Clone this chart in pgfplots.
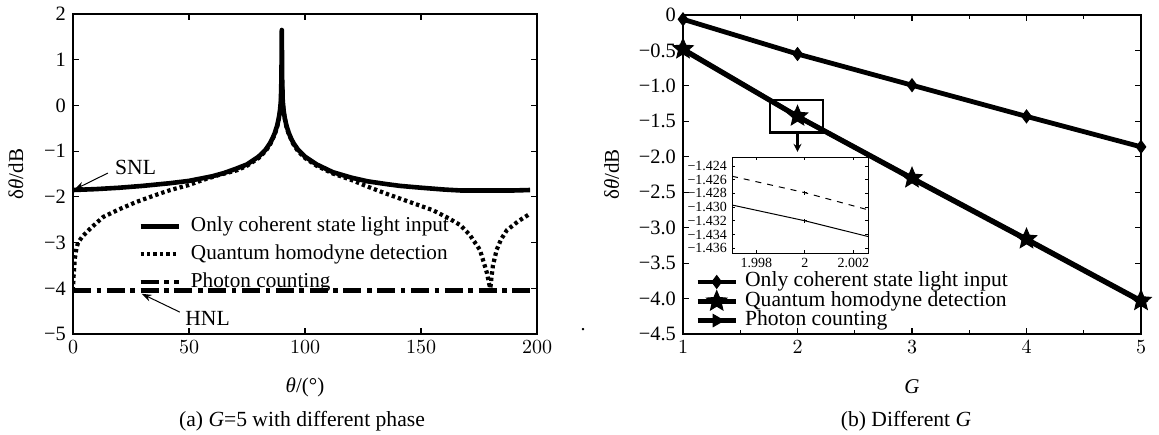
\documentclass[border=0pt]{standalone}
\usepackage{fontspec}
\setmainfont{Liberation Serif}
\usepackage{pgfplots}
\pgfplotsset{compat=1.18}
\usetikzlibrary{arrows.meta}

\pgfdeclareplotmark{fstar}{%
 \pgfpathmoveto{\pgfpointpolar{90}{\pgfplotmarksize}}%
 \pgfpathlineto{\pgfpointpolar{126}{0.45\pgfplotmarksize}}%
 \pgfpathlineto{\pgfpointpolar{162}{\pgfplotmarksize}}%
 \pgfpathlineto{\pgfpointpolar{198}{0.45\pgfplotmarksize}}%
 \pgfpathlineto{\pgfpointpolar{234}{\pgfplotmarksize}}%
 \pgfpathlineto{\pgfpointpolar{270}{0.45\pgfplotmarksize}}%
 \pgfpathlineto{\pgfpointpolar{306}{\pgfplotmarksize}}%
 \pgfpathlineto{\pgfpointpolar{342}{0.45\pgfplotmarksize}}%
 \pgfpathlineto{\pgfpointpolar{18}{\pgfplotmarksize}}%
 \pgfpathlineto{\pgfpointpolar{54}{0.45\pgfplotmarksize}}%
 \pgfpathclose
 \pgfusepathqfillstroke
}

\pgfplotsset{
  common/.style={
    scale only axis,
    anchor=south west,
    tick align=inside,
    major tick length=3pt,
    minor tick length=1.8pt,
    axis line style={line width=0.7pt},
    every tick/.style={black,line width=0.6pt},
    ticklabel style={font=\fontsize{10.2}{12}\selectfont},
    every axis x label/.style={at={(axis description cs:0.5,0)},anchor=center,yshift=-26.5pt,font=\fontsize{10.5}{12}\selectfont},
  },
}

\begin{document}
\begin{tikzpicture}
\path[use as bounding box] (0,0) rectangle (579.5pt,217pt);

% ---------------- (a) ----------------
\begin{axis}[common,
  at={(36.5pt,50pt)}, width=232pt, height=160pt,
  xmin=0, xmax=200, ymin=-5, ymax=2,
  xtick={0,50,100,150,200},
  ytick={-5,-4,-3,-2,-1,0,1,2},
  yticklabels={−5,−4,−3,−2,−1,0,1,2},
  xlabel={\textit{θ}/(°)},
  ylabel={δ\textit{θ}/dB},
  every axis y label/.style={at={(axis description cs:-0.123,0.5)},rotate=90,anchor=center,font=\fontsize{10.5}{12}\selectfont},
  legend style={at={(0.14,0.37)},anchor=north west,draw=none,fill=none,inner sep=0pt,
    font=\fontsize{10.6}{12}\selectfont, row sep=3.5pt,
    nodes={inner sep=0.5pt,text height=0.72em,text depth=0.22em}},
  legend cell align=left,
  legend image code/.code={\draw[#1] (0pt,0pt) -- (19pt,0pt); \path (23.5pt,0pt);},
]
\addplot[black, line width=2.3pt, line join=round] coordinates {
(0,-1.85) (10,-1.83) (20,-1.80) (30,-1.76) (42,-1.70) (50,-1.65) (60,-1.55)
(65,-1.48) (70,-1.39) (75,-1.29) (80,-1.12) (83,-0.97) (85,-0.82) (86,-0.72)
(87,-0.60) (88,-0.44) (88.7,-0.28) (89.2,-0.12) (89.6,0.10) (89.85,0.60) (90,1.65)
(90.15,0.60) (90.4,0.10) (90.8,-0.12) (91.3,-0.28) (92,-0.44) (93,-0.60) (94,-0.72)
(95,-0.82) (97,-0.97) (100,-1.12) (105,-1.29) (112,-1.46) (120,-1.58) (127,-1.66)
(135,-1.72) (141,-1.76) (150,-1.80) (160,-1.84) (167,-1.86) (180,-1.86) (190,-1.86) (197,-1.85)
};
\addlegendentry{Only coherent state light input}
\addplot[black, line width=2.1pt, line join=round, dash pattern=on 1.7pt off 1.5pt] coordinates {
(0,-4.05) (0.3,-3.70) (0.8,-3.35) (1.5,-3.12) (2.2,-3.00) (4,-2.87) (7.3,-2.70)
(13,-2.44) (20,-2.27) (27.4,-2.11) (35,-1.97) (42,-1.85) (50,-1.74) (56,-1.63)
(63,-1.52) (70.6,-1.42) (75,-1.32) (80,-1.15) (83,-1.00) (85,-0.85) (87,-0.63)
(88,-0.47) (89.2,-0.15) (89.6,0.05) (90,0.6) (90.4,0.05) (90.8,-0.15) (92,-0.47)
(93,-0.63) (95,-0.85) (97,-1.00) (100,-1.15) (105,-1.32) (112,-1.49) (120,-1.63)
(126.7,-1.77) (135,-1.93) (145,-2.11) (155,-2.29) (162,-2.47) (167,-2.62)
(171,-2.83) (175.4,-3.16) (178.4,-3.66) (179.5,-3.93) (179.9,-4.0) (180.3,-3.80)
(181,-3.50) (182.6,-3.16) (184.5,-2.93) (187,-2.73) (192,-2.53) (197,-2.37)
};
\addlegendentry{Quantum homodyne detection}
\addplot[black, line width=2.3pt, dash pattern=on 9pt off 2.8pt on 2.3pt off 2.8pt] coordinates {
(0,-4.05) (197,-4.05)
};
\addlegendentry{Photon counting}

\draw[-{Stealth[length=5pt,width=3.5pt]}, line width=0.5pt] (axis cs:15,-1.48) -- (axis cs:0.6,-1.84);
\node[font=\fontsize{10.8}{12}\selectfont] at (axis cs:27,-1.35) {SNL};
\draw[-{Stealth[length=5pt,width=3.5pt]}, line width=0.5pt] (axis cs:46,-4.52) -- (axis cs:29.6,-4.12);
\node[font=\fontsize{10.8}{12}\selectfont] at (axis cs:58,-4.65) {HNL};
\end{axis}

% ---------------- (b) ----------------
\begin{axis}[common,
  at={(341.5pt,50pt)}, width=229pt, height=159.5pt,
  xmin=1, xmax=5, ymin=-4.5, ymax=0,
  clip=false,
  xtick={1,2,3,4,5},
  minor x tick num=1,
  ytick={-4.5,-4,-3.5,-3,-2.5,-2,-1.5,-1,-0.5,0},
  yticklabels={−4.5,−4.0,−3.5,−3.0,−2.5,−2.0,−1.5,−1.0,−0.5,0},
  xlabel={\textit{G}},
  ylabel={δ\textit{θ}/dB},
  every axis y label/.style={at={(axis description cs:-0.156,0.5)},rotate=90,anchor=center,font=\fontsize{10.5}{12}\selectfont},
  legend style={at={(0.026,0.197)},anchor=north west,draw=none,fill=none,inner sep=0pt,
    font=\fontsize{10.8}{12}\selectfont, row sep=-0.8pt,
    nodes={inner sep=0.5pt,text height=0.72em,text depth=0.22em}},
  legend cell align=left,
  legend image code/.code={\draw[mark repeat=2,mark phase=2,#1] plot coordinates {(0pt,0pt) (9.5pt,0pt) (19pt,0pt)}; \path (22pt,0pt);},
]
\addplot[black, line width=2.4pt, mark=diamond*, mark size=3.2pt, mark options={solid,line width=0.5pt}] coordinates {
(1,-0.06) (2,-0.55) (3,-0.99) (4,-1.43) (5,-1.86)
};
\addlegendentry{Only coherent state light input}
\addplot[black, line width=2.4pt, mark=triangle*, mark size=3pt, mark options={rotate=-90,solid,line width=0.5pt}, forget plot] coordinates {
(1,-0.49) (2,-1.432) (3,-2.31) (4,-3.17) (5,-4.04)
};
\addplot[black, line width=2.4pt, mark=fstar, mark size=5.3pt, mark options={solid,line width=0.5pt}] coordinates {
(1,-0.48) (2,-1.428) (3,-2.30) (4,-3.16) (5,-4.03)
};
\addlegendentry{Quantum homodyne detection}
\addlegendimage{black, line width=2.4pt, mark=triangle*, mark size=3.5pt, mark options={rotate=-90,solid,line width=0.5pt}}
\addlegendentry{Photon counting}

\draw[line width=1.2pt] (axis cs:1.76,-1.20) rectangle (axis cs:2.22,-1.66);
\draw[-{Stealth[length=4pt,width=4pt]}, line width=1.2pt] (axis cs:2.0,-1.66) -- (axis cs:2.0,-1.93);
\end{axis}

% ---------------- inset ----------------
\begin{axis}[
  scale only axis, anchor=south west,
  at={(366pt,90.5pt)}, width=68pt, height=48pt,
  xmin=1.997, xmax=2.0026, ymin=-1.4367, ymax=-1.4227,
  axis background/.style={fill=white},
  tick align=inside, major tick length=1.5pt,
  axis line style={line width=0.5pt},
  every tick/.style={black,line width=0.4pt},
  xtick={1.998,2,2.002}, xticklabels={1.998,2,2.002},
  ytick={-1.436,-1.434,-1.432,-1.430,-1.428,-1.426,-1.424},
  yticklabels={−1.436,−1.434,−1.432,−1.430,−1.428,−1.426,−1.424},
  ticklabel style={font=\fontsize{7}{8}\selectfont},
  xticklabel style={yshift=1pt},
  yticklabel style={xshift=1pt},
]
\addplot[black, line width=0.5pt, dashed, mark=+, mark size=1pt, mark indices={2}, mark options={solid}] coordinates {
(1.997,-1.4255) (2,-1.4279) (2.0026,-1.4304)
};
\addplot[black, line width=0.5pt, mark=+, mark size=1pt, mark indices={2}] coordinates {
(1.997,-1.4297) (2,-1.4320) (2.0026,-1.4343)
};
\end{axis}

\node[font=\fontsize{10}{12}\selectfont] at (291.5pt,52pt) {.};
\node[font=\fontsize{10.8}{12}\selectfont] at (151pt,6.5pt) {(a) \textit{G}=5 with different phase};
\node[font=\fontsize{10.8}{12}\selectfont] at (453pt,6.5pt) {(b) Different \textit{G}};
\end{tikzpicture}
\end{document}
